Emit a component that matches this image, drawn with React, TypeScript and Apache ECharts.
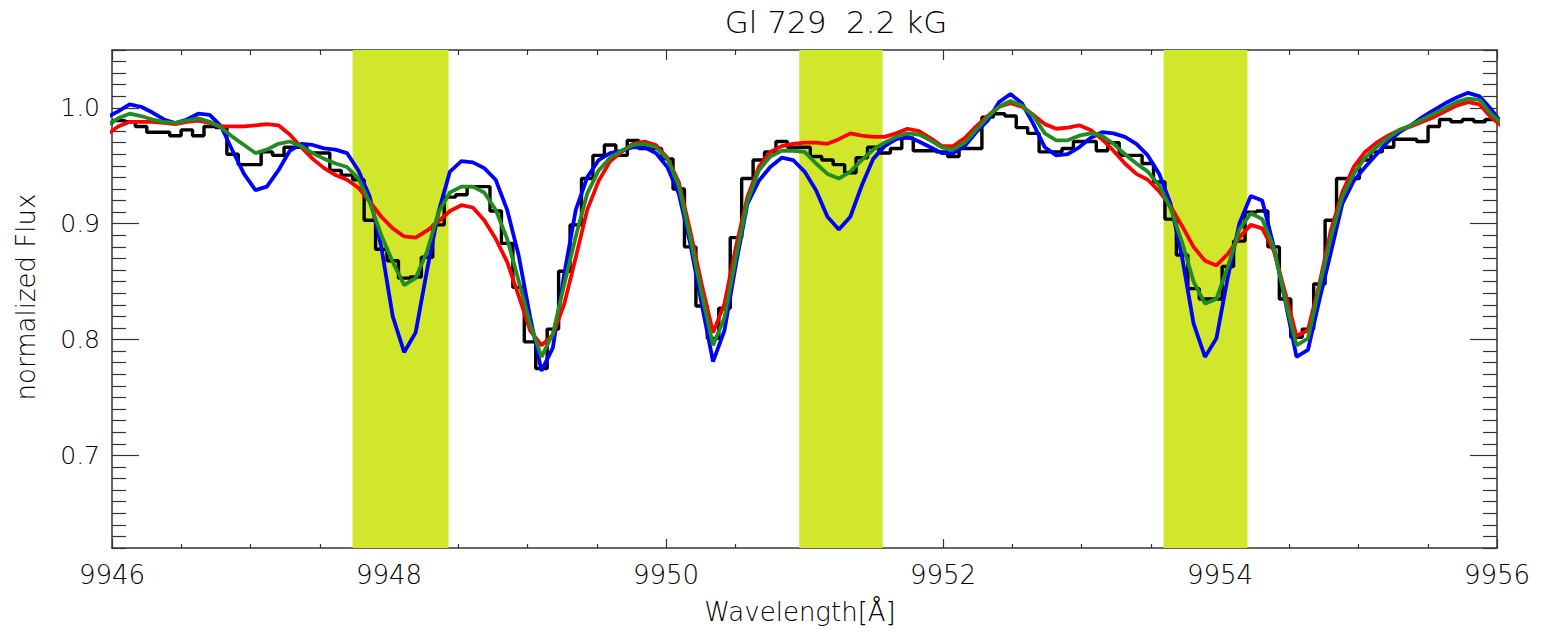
import React, { useEffect, useRef } from "react";
import * as echarts from "echarts";

// ---------------- data ----------------
// uniform wavelength grid of the spectrum (bin centres), first point just left of the plot
const WAVE_START = 9945.962;
const BIN_WIDTH = 0.0826;

const OBSERVED = [
  0.987, 0.989, 0.988, 0.984, 0.979, 0.979, 0.976, 0.981, 0.976, 0.984, 0.983,
  0.960, 0.951, 0.951, 0.962, 0.959, 0.966, 0.966, 0.961, 0.961, 0.946,
  0.942, 0.938, 0.903, 0.878, 0.868, 0.853, 0.854, 0.871, 0.899, 0.923,
  0.925, 0.932, 0.932, 0.911, 0.883, 0.845, 0.798, 0.775, 0.809, 0.859,
  0.899, 0.939, 0.959, 0.968, 0.959, 0.972, 0.965, 0.965, 0.956, 0.930,
  0.880, 0.829, 0.801, 0.827, 0.888, 0.939, 0.955, 0.962, 0.971, 0.966,
  0.966, 0.958, 0.955, 0.951, 0.944, 0.957, 0.966, 0.961, 0.965, 0.974,
  0.963, 0.963, 0.962, 0.958, 0.965, 0.965, 0.992, 0.995, 0.993, 0.983,
  0.978, 0.962, 0.962, 0.965, 0.971, 0.971, 0.963, 0.970, 0.959, 0.959,
  0.952, 0.936, 0.904, 0.873, 0.844, 0.835, 0.835, 0.863, 0.885, 0.910,
  0.911, 0.880, 0.835, 0.802, 0.809, 0.848, 0.903, 0.939, 0.939, 0.955,
  0.962, 0.966, 0.973, 0.973, 0.971, 0.984, 0.990, 0.988, 0.990, 0.988,
  0.990, 0.989,
];

const MODEL_BLUE = [
  0.992, 0.997, 1.003, 1.001, 0.996, 0.990, 0.987, 0.990, 0.995, 0.994, 0.984,
  0.963, 0.943, 0.929, 0.932, 0.946, 0.963, 0.969, 0.968, 0.965, 0.964,
  0.961, 0.946, 0.923, 0.880, 0.820, 0.789, 0.806, 0.860, 0.910, 0.945,
  0.954, 0.953, 0.948, 0.938, 0.912, 0.873, 0.820, 0.773, 0.793, 0.857,
  0.912, 0.940, 0.955, 0.961, 0.963, 0.966, 0.966, 0.961, 0.949, 0.926,
  0.883, 0.831, 0.781, 0.808, 0.865, 0.917, 0.937, 0.949, 0.957, 0.955,
  0.945, 0.929, 0.906, 0.895, 0.906, 0.933, 0.956, 0.967, 0.973, 0.975,
  0.971, 0.966, 0.961, 0.961, 0.967, 0.979, 0.989, 1.005, 1.012, 1.004,
  0.986, 0.966, 0.959, 0.960, 0.966, 0.974, 0.979, 0.978, 0.975, 0.969,
  0.959, 0.943, 0.917, 0.871, 0.814, 0.785, 0.801, 0.854, 0.900, 0.924,
  0.920, 0.881, 0.834, 0.785, 0.791, 0.834, 0.875, 0.917, 0.937, 0.949,
  0.960, 0.971, 0.979, 0.985, 0.992, 0.998, 1.004, 1.009, 1.013, 1.010,
  0.999, 0.986,
];

const MODEL_RED = [
  0.977, 0.984, 0.988, 0.988, 0.988, 0.987, 0.986, 0.988, 0.989, 0.987, 0.984,
  0.984, 0.984, 0.985, 0.986, 0.985, 0.977, 0.966, 0.956, 0.948, 0.942,
  0.938, 0.931, 0.919, 0.906, 0.896, 0.889, 0.888, 0.894, 0.902, 0.911,
  0.916, 0.914, 0.903, 0.887, 0.867, 0.838, 0.808, 0.795, 0.804, 0.831,
  0.871, 0.912, 0.937, 0.954, 0.962, 0.969, 0.971, 0.968, 0.957, 0.936,
  0.894, 0.848, 0.806, 0.831, 0.880, 0.923, 0.949, 0.962, 0.967, 0.969,
  0.970, 0.970, 0.969, 0.973, 0.978, 0.976, 0.975, 0.975, 0.978, 0.982,
  0.980, 0.974, 0.967, 0.967, 0.974, 0.984, 0.993, 1.001, 1.004, 1.001,
  0.994, 0.986, 0.982, 0.983, 0.985, 0.981, 0.973, 0.963, 0.952, 0.943,
  0.938, 0.928, 0.915, 0.898, 0.880, 0.868, 0.864, 0.874, 0.888, 0.899,
  0.896, 0.877, 0.841, 0.803, 0.808, 0.848, 0.894, 0.927, 0.949, 0.962,
  0.970, 0.976, 0.981, 0.984, 0.988, 0.992, 0.997, 1.002, 1.005, 1.003,
  0.992, 0.984,
];

const MODEL_GREEN = [
  0.985, 0.991, 0.995, 0.993, 0.990, 0.988, 0.987, 0.989, 0.991, 0.988, 0.983,
  0.975, 0.968, 0.961, 0.964, 0.969, 0.971, 0.967, 0.961, 0.956, 0.952,
  0.949, 0.939, 0.918, 0.890, 0.867, 0.847, 0.853, 0.876, 0.910, 0.927,
  0.932, 0.932, 0.927, 0.912, 0.887, 0.851, 0.814, 0.785, 0.805, 0.848,
  0.889, 0.926, 0.946, 0.957, 0.963, 0.968, 0.969, 0.966, 0.956, 0.933,
  0.888, 0.840, 0.795, 0.819, 0.871, 0.919, 0.946, 0.958, 0.963, 0.963,
  0.962, 0.952, 0.943, 0.939, 0.945, 0.955, 0.964, 0.970, 0.975, 0.978,
  0.977, 0.972, 0.966, 0.964, 0.970, 0.981, 0.992, 1.001, 1.006, 1.002,
  0.993, 0.978, 0.972, 0.972, 0.976, 0.978, 0.976, 0.969, 0.960, 0.952,
  0.945, 0.933, 0.913, 0.884, 0.850, 0.831, 0.835, 0.863, 0.895, 0.909,
  0.904, 0.880, 0.835, 0.795, 0.801, 0.845, 0.888, 0.923, 0.943, 0.957,
  0.966, 0.974, 0.981, 0.985, 0.990, 0.995, 1.000, 1.005, 1.008, 1.007,
  0.995, 0.986,
];

// highlighted wavelength windows [start, end]
const BANDS: [number, number][] = [
  [9947.737, 9948.43],
  [9950.962, 9951.564],
  [9953.593, 9954.198],
];

const X_MIN = 9946;
const X_MAX = 9956;
const X_TICK_STEP = 2;
const Y_MIN = 0.62;
const Y_MAX = 1.05;
const Y_MAJOR = [0.7, 0.8, 0.9, 1.0];

const TITLE = "Gl 729  2.2 kG";
const X_NAME = "Wavelength[Å]";
const Y_NAME = "normalized Flux";

// ---------------- styling ----------------
const FONT = "'DejaVu Sans', 'Noto Sans', sans-serif";
const FW = 200;
const AXIS_COLOR = "#333";
const BAND_COLOR = "#d0e72c";

export default function App() {
  const ref = useRef<HTMLDivElement>(null);

  useEffect(() => {
    if (!ref.current) return;
    const chart = echarts.init(ref.current, null, { renderer: "svg" });

    const wave = OBSERVED.map((_, i) => +(WAVE_START + i * BIN_WIDTH).toFixed(4));
    const pairs = (arr: number[]) => arr.map((v, i) => [wave[i], v]);

    const yMinor: number[] = [];
    for (let i = Math.round(Y_MIN * 100); i <= Math.round(Y_MAX * 100); i++) {
      if (i % 10 !== 0) yMinor.push(+(i / 100).toFixed(2));
    }

    const xAxisBase = {
      type: "value",
      min: X_MIN,
      max: X_MAX,
      interval: X_TICK_STEP,
      axisLine: { show: true, onZero: false, lineStyle: { color: AXIS_COLOR, width: 1.5 } },
      splitLine: { show: false },
      minorSplitLine: { show: false },
    };
    const yAxisBase = {
      type: "value",
      min: Y_MIN,
      max: Y_MAX,
      splitLine: { show: false },
      axisLine: { show: false },
      axisLabel: { show: false },
    };

    const option: any = {
      animation: false,
      backgroundColor: "#ffffff",
      grid: { left: 112, top: 50, width: 1385, height: 498 },
      xAxis: [
        {
          ...xAxisBase,
          position: "bottom",
          axisTick: { show: true, inside: true, length: 9, lineStyle: { color: AXIS_COLOR, width: 1.2 } },
          minorTick: { show: true, splitNumber: 4, length: 4, lineStyle: { color: AXIS_COLOR, width: 1.2 } },
          axisLabel: {
            show: true,
            margin: 14,
            fontSize: 26,
            color: "#000",
            fontFamily: FONT,
            fontWeight: FW,
            formatter: (v: number) => String(v),
          },
        },
        {
          ...xAxisBase,
          position: "top",
          axisTick: { show: true, inside: true, length: 10, lineStyle: { color: AXIS_COLOR, width: 1.2 } },
          minorTick: { show: true, splitNumber: 4, length: 5, lineStyle: { color: AXIS_COLOR, width: 1.2 } },
          axisLabel: { show: false },
        },
      ],
      yAxis: [
        {
          ...yAxisBase,
          position: "left",
          axisLine: { show: true, onZero: false, lineStyle: { color: AXIS_COLOR, width: 1.5 } },
          axisTick: { show: true, inside: true, length: 27, customValues: Y_MAJOR, lineStyle: { color: AXIS_COLOR, width: 1.2 } },
          axisLabel: {
            show: true,
            customValues: Y_MAJOR,
            margin: 12,
            fontSize: 25,
            color: "#000",
            fontFamily: FONT,
            fontWeight: FW,
            formatter: (v: number) => v.toFixed(1),
          },
        },
        {
          ...yAxisBase,
          position: "left",
          axisTick: { show: true, inside: true, length: 14, customValues: yMinor, lineStyle: { color: AXIS_COLOR, width: 1.2 } },
        },
        {
          ...yAxisBase,
          position: "right",
          axisLine: { show: true, onZero: false, lineStyle: { color: AXIS_COLOR, width: 1.5 } },
          axisTick: { show: true, inside: true, length: 27, customValues: Y_MAJOR, lineStyle: { color: AXIS_COLOR, width: 1.2 } },
        },
        {
          ...yAxisBase,
          position: "right",
          axisTick: { show: true, inside: true, length: 14, customValues: yMinor, lineStyle: { color: AXIS_COLOR, width: 1.2 } },
        },
      ],
      series: [
        {
          name: "observed",
          type: "line",
          step: "middle",
          data: pairs(OBSERVED),
          showSymbol: false,
          symbol: "none",
          lineStyle: { color: "#000", width: 3.4 },
          z: 2,
          markArea: {
            silent: true,
            itemStyle: { color: BAND_COLOR, opacity: 1 },
            data: BANDS.map(([a, b]) => [{ xAxis: a }, { xAxis: b }]),
          },
        },
        {
          name: "blue",
          type: "line",
          data: pairs(MODEL_BLUE),
          showSymbol: false,
          symbol: "none",
          lineStyle: { color: "#0000ff", width: 3.8 },
          z: 3,
        },
        {
          name: "red",
          type: "line",
          data: pairs(MODEL_RED),
          showSymbol: false,
          symbol: "none",
          lineStyle: { color: "#ff0000", width: 3.8 },
          z: 4,
        },
        {
          name: "green",
          type: "line",
          data: pairs(MODEL_GREEN),
          showSymbol: false,
          symbol: "none",
          lineStyle: { color: "#228b22", width: 3.8 },
          z: 5,
        },
      ],
      graphic: [
        {
          type: "text",
          x: 836,
          y: 22,
          style: {
            text: TITLE,
            fill: "#000",
            font: `${FW} 31px ${FONT}`,
            align: "center",
            verticalAlign: "middle",
          },
        },
        {
          type: "text",
          x: 800,
          y: 612,
          style: {
            text: X_NAME,
            fill: "#000",
            font: `${FW} 26px ${FONT}`,
            align: "center",
            verticalAlign: "middle",
          },
        },
        {
          type: "text",
          x: 26,
          y: 297,
          rotation: Math.PI / 2,
          style: {
            text: Y_NAME,
            fill: "#000",
            font: `${FW} 26px ${FONT}`,
            align: "center",
            verticalAlign: "middle",
          },
        },
      ],
    };

    chart.setOption(option);
    return () => chart.dispose();
  }, []);

  return (
    <div
      ref={ref}
      style={{ position: "fixed", left: 0, top: 0, width: 1542, height: 633, background: "#fff" }}
    />
  );
}
